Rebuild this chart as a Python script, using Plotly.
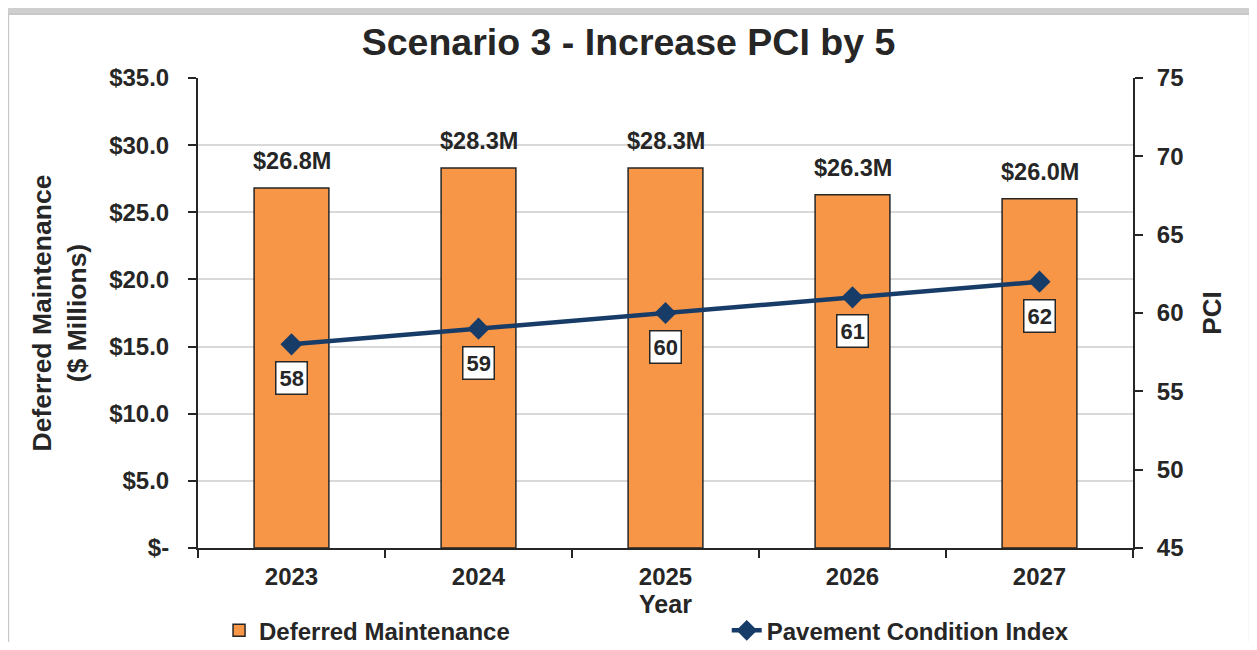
import plotly.graph_objects as go

years = ["2023", "2024", "2025", "2026", "2027"]
deferred = [26.8, 28.3, 28.3, 26.3, 26.0]
pci = [58, 59, 60, 61, 62]
left_ticks = [0, 5, 10, 15, 20, 25, 30, 35]
left_labels = ["$-", "$5.0", "$10.0", "$15.0", "$20.0", "$25.0", "$30.0", "$35.0"]
right_ticks = [45, 50, 55, 60, 65, 70, 75]

FONT = "Liberation Sans"
INK = "#262626"
ORANGE = "#f79646"
NAVY = "#183c68"


def bold(size):
    return dict(family=FONT, size=size, color=INK, weight="bold")


fig = go.Figure()

fig.add_trace(go.Bar(
    x=years, y=deferred, name="Deferred Maintenance", legend="legend",
    marker=dict(color=ORANGE, line=dict(color=INK, width=1.5)),
    width=0.4,
))

fig.add_trace(go.Scatter(
    x=years, y=pci, name="Pavement Condition Index", yaxis="y2", legend="legend2",
    mode="lines+markers",
    line=dict(color=NAVY, width=4.5),
    marker=dict(symbol="diamond", size=17, color=NAVY),
))

annotations = []
for i, v in enumerate(deferred):
    annotations.append(dict(
        x=i, y=v, xref="x", yref="y", text=f"${v:.1f}M", showarrow=False,
        yanchor="bottom", yshift=12, font=bold(23.5),
    ))
for i, v in enumerate(pci):
    annotations.append(dict(
        x=i, y=v, xref="x", yref="y2", text=str(v), showarrow=False,
        yshift=-34, bgcolor="white", bordercolor=INK, borderwidth=1.5, borderpad=3,
        font=bold(22),
    ))

# page body adds an 8px offset, so the figure is sized to fit the window
fig.update_layout(
    width=1241, height=634,
    margin=dict(l=190, r=116, t=70, b=94, autoexpand=False),
    paper_bgcolor="white", plot_bgcolor="rgba(0,0,0,0)",
    font=bold(22),
    title=dict(text="Scenario 3 - Increase PCI by 5", x=0.5, xanchor="center",
               y=0.946, yanchor="middle", font=bold(37.5)),
    showlegend=True,
    legend=dict(orientation="h", x=0.0225, xanchor="left", y=-0.176, yanchor="middle",
                font=bold(24), bgcolor="rgba(0,0,0,0)"),
    legend2=dict(orientation="h", x=0.5655, xanchor="left", y=-0.176, yanchor="middle",
                 font=bold(24), bgcolor="rgba(0,0,0,0)"),
    annotations=annotations,
    xaxis=dict(
        type="category", range=[-0.5, 4.5], tickson="boundaries", ticks="outside", ticklen=8,
        tickcolor=INK, tickwidth=2, showline=True, linecolor=INK, linewidth=2,
        showgrid=False, tickangle=0, automargin=False, ticklabelstandoff=6,
        tickfont=bold(24),
        title=dict(text="Year", standoff=0, font=bold(25)),
    ),
    yaxis=dict(
        range=[0, 35], tickvals=left_ticks, ticktext=left_labels,
        ticks="outside", ticklen=8, tickcolor=INK, tickwidth=2,
        showline=True, linecolor=INK, linewidth=2, automargin=False, ticklabelstandoff=14,
        showgrid=True, gridcolor="#d9d9d9", gridwidth=1.5, zeroline=False,
        tickfont=bold(24),
        title=dict(text="Deferred Maintenance<br>($ Millions)", standoff=15, font=bold(26.5)),
    ),
    yaxis2=dict(
        overlaying="y", side="right", range=[45, 75], tickvals=right_ticks,
        ticks="outside", ticklen=8, tickcolor=INK, tickwidth=2, automargin=False,
        ticklabelstandoff=9,
        showline=True, linecolor=INK, linewidth=2, showgrid=False, zeroline=False,
        tickfont=bold(24),
        title=dict(text="PCI", standoff=20, font=bold(26)),
    ),
    shapes=[
        dict(type="rect", xref="paper", yref="paper",
             x0=-0.207, x1=1.132, y0=-0.45, y1=1.158,
             line=dict(width=0), fillcolor="#cfcfcf", layer="below"),
        dict(type="rect", xref="paper", yref="paper",
             x0=-0.203, x1=1.125, y0=-0.45, y1=1.136,
             line=dict(color="#c8c8c8", width=2), fillcolor="white", layer="below"),
    ],
)

fig.write_html("out.html")
